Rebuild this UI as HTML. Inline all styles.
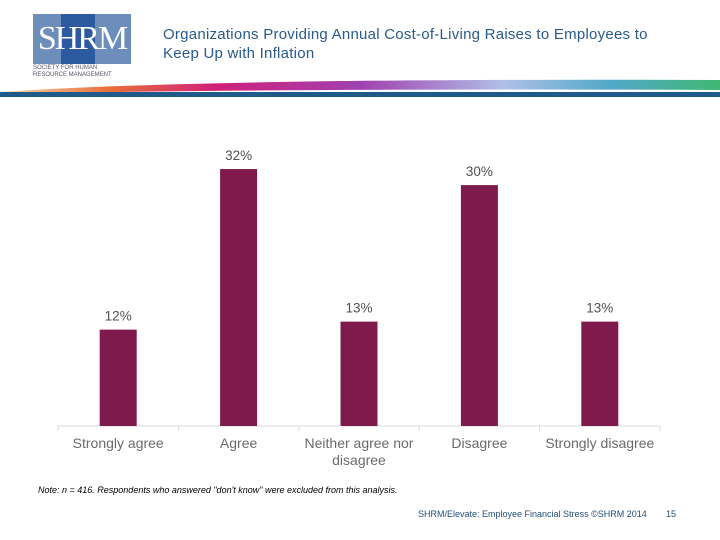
<!DOCTYPE html>
<html><head><meta charset="utf-8"><style>
body{margin:0;width:720px;height:540px;background:#fff;font-family:"Liberation Sans",sans-serif;position:relative;overflow:hidden}
.abs{position:absolute}
</style></head><body>
<div class="abs" style="left:33px;top:14px;width:100px;height:62px">
 <div class="abs" style="left:0;top:0;width:28px;height:50px;background:#6d8dbb"></div>
 <div class="abs" style="left:28px;top:0;width:34px;height:50px;background:#2c5aa0"></div>
 <div class="abs" style="left:62px;top:0;width:36px;height:50px;background:#6d8dbb"></div>
 <div class="abs" style="left:0;top:6px;width:98px;font-family:'Liberation Serif',serif;font-size:34px;color:#fff;letter-spacing:-2px;text-align:center">SHRM</div>
 <div class="abs" style="left:0;top:51px;font-size:6px;color:#556;line-height:7px;white-space:nowrap">SOCIETY FOR HUMAN<br>RESOURCE MANAGEMENT</div>
</div>
<div class="abs" style="left:163px;top:25px;font-size:15px;letter-spacing:0.25px;color:#2a5a8a;line-height:19px">Organizations Providing Annual Cost-of-Living Raises to Employees to<br>Keep Up with Inflation</div>
<svg class="abs" style="left:0;top:76px" width="720" height="26">
 <defs><linearGradient id="g" x1="0" x2="1"><stop offset="0" stop-color="#f7d9b0"/><stop offset="0.15" stop-color="#e8703a"/><stop offset="0.3" stop-color="#d0207a"/><stop offset="0.5" stop-color="#a040b0"/><stop offset="0.7" stop-color="#b0c0e8"/><stop offset="0.85" stop-color="#50a8c8"/><stop offset="1" stop-color="#40b870"/></linearGradient></defs>
 <path d="M0 16 Q200 2 720 4 L720 14 Q300 12 0 18Z" fill="url(#g)"/>
 <rect x="0" y="16" width="720" height="5" fill="#1e5a8c"/>
</svg>
<svg class="abs" style="left:0;top:0" width="720" height="540" id="chart"></svg>
<div class="abs" style="left:38px;top:485px;font-size:9px;font-style:italic;color:#000;white-space:nowrap">Note: n = 416. Respondents who answered "don't know" were excluded from this analysis.</div>
<div class="abs" style="left:418px;top:509px;font-size:9px;color:#1f4e79;white-space:nowrap">SHRM/Elevate: Employee Financial Stress ©SHRM 2014</div>
<div class="abs" style="left:666px;top:509px;font-size:9px;color:#1f4e79">15</div>
<script>
const categories=["Strongly agree","Agree","Neither agree nor|disagree","Disagree","Strongly disagree"];
const values=[12,32,13,30,13];
const labels=["12%","32%","13%","30%","13%"];
const svg=document.getElementById('chart');const NS="http://www.w3.org/2000/svg";
const x0=58,x1=660,base=426,pxPer=8.03,bw=37;
const step=(x1-x0)/categories.length;
const xc=i=>x0+step*(i+0.5);const y=v=>base-v*pxPer;
function mk(t,a){const e=document.createElementNS(NS,t);for(const k in a)e.setAttribute(k,a[k]);svg.appendChild(e);return e;}
const ax=mk('line',{x1:x0,x2:x1,y1:base,y2:base,stroke:'#d9d9d9'});


for(let i=0;i<=categories.length;i++){const t=mk('line',{x1:x0+step*i,x2:x0+step*i,y1:base,y2:base+5,stroke:'#d9d9d9'});

}
values.forEach((v,i)=>{
 const r=mk('rect',{x:xc(i)-bw/2,y:y(v),width:bw,height:base-y(v),fill:'#7f1a4c'});
 
 
 const lb=mk('text',{x:xc(i),y:y(v)-9,'text-anchor':'middle','font-size':13.5,fill:'#505050'});lb.textContent=labels[i];
 
 
 categories[i].split('|').forEach((s,j)=>{const c=mk('text',{x:xc(i),y:448+j*17,'text-anchor':'middle','font-size':14,fill:'#6a6a6a'});c.textContent=s;
 
 });
});
</script>
</body></html>
